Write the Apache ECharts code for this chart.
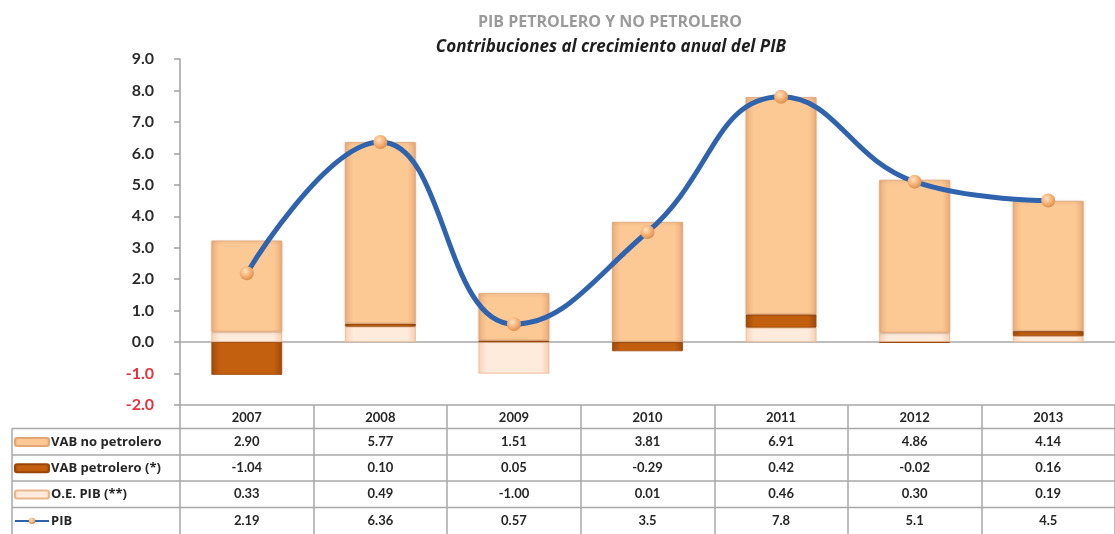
<!DOCTYPE html>
<html>
<head>
<meta charset="utf-8">
<script src="https://cdn.jsdelivr.net/npm/echarts@6/dist/echarts.min.js"></script>
<style>
  html, body { margin: 0; padding: 0; background: #fff; }
  #chart { width: 1115px; height: 534px; }
</style>
</head>
<body>
<div id="chart"></div>
<script>
const years = ['2007', '2008', '2009', '2010', '2011', '2012', '2013'];
const vabNoPetrolero = [2.90, 5.77, 1.51, 3.81, 6.91, 4.86, 4.14];
const vabPetrolero = [-1.04, 0.10, 0.05, -0.29, 0.42, -0.02, 0.16];
const oePib = [0.33, 0.49, -1.00, 0.01, 0.46, 0.30, 0.19];
const pib = [2.19, 6.36, 0.57, 3.5, 7.8, 5.1, 4.5];
const pibText = ['2.19', '6.36', '0.57', '3.5', '7.8', '5.1', '4.5'];
const yTicks = { min: -2, max: 9, step: 1 };

const FONT = 'Lato, "Open Sans", sans-serif';
const FONT_WIDE = '"Open Sans", Lato, sans-serif';
const GRID_TOP = 59, GRID_BOTTOM_Y = 405, H = 534;
const rowCenters = [441.5, 468, 494, 520.5];

const fmt2 = (v) => v.toFixed(2);

const grad = (stops) => new echarts.graphic.LinearGradient(0, 0, 1, 0,
  stops.map(([o, c]) => ({ offset: o, color: c })));

const peach = grad([[0, '#EFB07A'], [0.12, '#FCC995'], [0.88, '#FCC995'], [1, '#EDAE78']]);
const darkOrange = grad([[0, '#A24A0B'], [0.12, '#C2600F'], [0.88, '#C2600F'], [1, '#A0480A']]);
const lightPeach = grad([[0, '#F6D2B6'], [0.12, '#FFEBDC'], [0.88, '#FFEBDC'], [1, '#F4CFB2']]);

const tableTextStyle = { fontFamily: FONT, fontWeight: 'bold', fontSize: 13, color: '#262626' };

function rowAxis(data, center) {
  return {
    type: 'category', gridIndex: 0, position: 'bottom', data,
    offset: center - GRID_BOTTOM_Y,
    axisLine: { show: false }, axisTick: { show: false }, splitLine: { show: false },
    axisLabel: Object.assign({ margin: 0, verticalAlign: 'middle', interval: 0 }, tableTextStyle)
  };
}

const chart = echarts.init(document.getElementById('chart'));

const option = {
  animation: false,
  backgroundColor: '#fff',
  grid: { left: 180, right: -25, top: GRID_TOP, bottom: H - GRID_BOTTOM_Y, containLabel: false },
  legend: {
    orient: 'vertical', left: 14, top: 434, padding: 0,
    itemWidth: 34, itemHeight: 8, itemGap: 10.3,
    data: ['VAB no petrolero', 'VAB petrolero (*)', 'O.E. PIB (**)', 'PIB'],
    textStyle: {
      fontFamily: FONT_WIDE, fontWeight: 'bold', fontSize: 13, color: '#262626',
      lineHeight: 16, padding: [0, 0, 0, -3]
    },
    selectedMode: false
  },
  xAxis: [
    {
      type: 'category', data: years,
      axisLine: { onZero: true, lineStyle: { color: '#a8a8a8', width: 1.5 } },
      axisTick: { show: false }, axisLabel: { show: false }, splitLine: { show: false }
    },
    {
      type: 'category', data: years, position: 'bottom',
      axisLine: { onZero: false, lineStyle: { color: '#a8a8a8', width: 1.5 } },
      axisTick: { show: true, length: H - GRID_BOTTOM_Y, lineStyle: { color: '#a8a8a8', width: 1.5 } },
      axisLabel: Object.assign({ margin: 13, verticalAlign: 'middle', interval: 0 }, tableTextStyle)
    },
    rowAxis(vabNoPetrolero.map(fmt2), rowCenters[0]),
    rowAxis(vabPetrolero.map(fmt2), rowCenters[1]),
    rowAxis(oePib.map(fmt2), rowCenters[2]),
    rowAxis(pibText, rowCenters[3])
  ],
  yAxis: {
    type: 'value', min: yTicks.min, max: yTicks.max, interval: yTicks.step,
    axisLine: { show: true, lineStyle: { color: '#a0a0a0', width: 1.5 } },
    axisTick: { show: true, length: 6, lineStyle: { color: '#a0a0a0', width: 1.5 } },
    splitLine: { show: false },
    axisLabel: {
      margin: 26, fontFamily: FONT, fontWeight: 'bold', fontSize: 16,
      formatter: (v) => v.toFixed(1),
      color: (v) => (Number(v) < 0 ? '#e8303a' : '#2b2b2b')
    }
  },
  series: [
    {
      name: 'O.E. PIB (**)', type: 'bar', stack: 'total', data: oePib, barWidth: '53%',
      itemStyle: { color: lightPeach, borderColor: '#EAB58C', borderWidth: 0.8 }
    },
    {
      name: 'VAB petrolero (*)', type: 'bar', stack: 'total', data: vabPetrolero,
      itemStyle: { color: darkOrange, borderColor: '#9a4509', borderWidth: 0.8 }
    },
    {
      name: 'VAB no petrolero', type: 'bar', stack: 'total', data: vabNoPetrolero,
      itemStyle: {
        color: peach, borderColor: '#E2A573', borderWidth: 0.8,
        shadowColor: 'rgba(0,0,0,0.18)', shadowBlur: 3, shadowOffsetY: 1
      }
    },
    {
      name: 'PIB', type: 'line', data: pib, smooth: 0.45, z: 5,
      symbol: 'circle', symbolSize: 14,
      lineStyle: { color: '#2F63AE', width: 5 },
      itemStyle: {
        color: new echarts.graphic.RadialGradient(0.4, 0.35, 0.7, [
          { offset: 0, color: '#FFE2BF' }, { offset: 0.5, color: '#F6B47A' }, { offset: 1, color: '#D98A45' }
        ])
      }
    }
  ],
  graphic: [
    {
      type: 'text', x: 610, y: 22,
      style: {
        text: 'PIB PETROLERO Y NO PETROLERO', fontFamily: FONT_WIDE, fontWeight: 'bold', fontSize: 16,
        fill: '#9a9a9a', align: 'center', verticalAlign: 'middle'
      }
    },
    {
      type: 'text', x: 611, y: 47,
      style: {
        text: 'Contribuciones al crecimiento anual del PIB', fontFamily: FONT_WIDE, fontWeight: 'bold',
        fontStyle: 'italic', fontSize: 17, fill: '#1e1e1e', align: 'center', verticalAlign: 'middle'
      }
    },
    // table row borders
    ...[428.5, 455, 481, 507.5].map((y) => ({
      type: 'line', silent: true,
      shape: { x1: 12, y1: y, x2: 1115, y2: y },
      style: { stroke: '#a8a8a8', lineWidth: 1.5 }
    })),
    {
      type: 'line', silent: true,
      shape: { x1: 12, y1: 428.5, x2: 12, y2: H },
      style: { stroke: '#a8a8a8', lineWidth: 1.5 }
    }
  ]
};

chart.setOption(option);
</script>
</body>
</html>
